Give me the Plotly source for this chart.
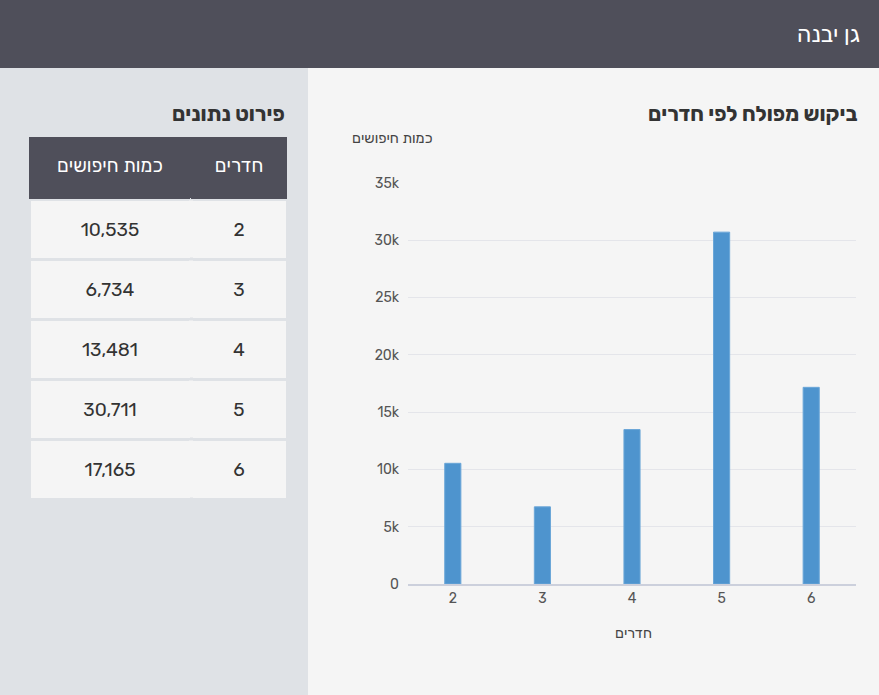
import plotly.graph_objects as go

# data
rooms = ["2", "3", "4", "5", "6"]
searches = [10535, 6734, 13481, 30711, 17165]

page_title = "גן יבנה"
chart_title = "ביקוש מפולח לפי חדרים"
table_title = "פירוט נתונים"
col_rooms = "חדרים"
col_searches = "כמות חיפושים"

W, H = 879, 695
FONT = "Rubik, Open Sans, DejaVu Sans, sans-serif"

TABLE_TOP, HEAD_H, ROW_H = 137, 62, 60
DIVIDER_X = 29 + 162


def py(px_from_top):
    # pixel from top -> paper y
    return 1 - px_from_top / H


def px(px_from_left):
    return px_from_left / W


def cell(text):
    # tables draw text near the top of a cell; a small blank first line
    # (base font) pushes the real 19px text down to the middle
    return '\u00a0<br><span style="font-size:19px">' + text + "</span>"


fig = go.Figure()

fig.add_trace(go.Bar(
    x=rooms,
    y=searches,
    marker=dict(color="#4e94ce", line=dict(color="#6aa6d8", width=1)),
    hoverinfo="x+y",
))

fig.add_trace(go.Table(
    domain=dict(x=[px(29), px(287)], y=[0, py(TABLE_TOP)]),
    columnwidth=[162, 96],
    header=dict(
        values=[cell(col_searches), cell(col_rooms)],
        fill_color="#4f4f5a",
        line=dict(color="#4f4f5a", width=0),
        font=dict(family=FONT, size=12, color="white"),
        align="center",
        height=HEAD_H,
    ),
    cells=dict(
        values=[[cell(f"{v:,}") for v in searches], [cell(r) for r in rooms]],
        fill_color="#f5f5f5",
        line=dict(color="#dfe2e6", width=3),
        font=dict(family=FONT, size=13, color="#333333"),
        align="center",
        height=ROW_H,
    ),
))

shapes = [
    # header bar
    dict(type="rect", xref="paper", yref="paper", x0=0, x1=1, y0=py(68), y1=1,
         fillcolor="#4f4f5a", line=dict(width=0), layer="below"),
    # left panel
    dict(type="rect", xref="paper", yref="paper", x0=0, x1=px(308), y0=0, y1=py(68),
         fillcolor="#dfe2e6", line=dict(width=0), layer="below"),
]
# hide the column divider inside each body row (reference has none)
for i in range(len(rooms)):
    top = TABLE_TOP + HEAD_H + i * ROW_H
    shapes.append(dict(type="rect", xref="paper", yref="paper",
                       x0=px(DIVIDER_X - 2), x1=px(DIVIDER_X + 2),
                       y0=py(top + ROW_H - 1.5), y1=py(top + 1.5),
                       fillcolor="#f5f5f5", line=dict(width=0), layer="above"))

annotations = [
    dict(text=page_title, xref="paper", yref="paper", x=px(862), y=py(34),
         xanchor="right", yanchor="middle", showarrow=False,
         font=dict(family=FONT, size=23, color="white")),
    dict(text="<b>" + chart_title + "</b>", xref="paper", yref="paper", x=px(860), y=py(113),
         xanchor="right", yanchor="middle", showarrow=False,
         font=dict(family=FONT, size=21, color="#333333")),
    dict(text="<b>" + table_title + "</b>", xref="paper", yref="paper", x=px(287), y=py(113),
         xanchor="right", yanchor="middle", showarrow=False,
         font=dict(family=FONT, size=21, color="#333333")),
    dict(text=col_searches, xref="paper", yref="paper", x=px(435), y=py(138),
         xanchor="right", yanchor="middle", showarrow=False,
         font=dict(family=FONT, size=14.5, color="#444444")),
    dict(text=col_rooms, xref="paper", yref="paper", x=px(633), y=py(633),
         xanchor="center", yanchor="middle", showarrow=False,
         font=dict(family=FONT, size=14.5, color="#444444")),
]

fig.update_layout(
    width=W, height=H,
    margin=dict(l=0, r=0, t=0, b=0, autoexpand=False),
    paper_bgcolor="#f5f5f5",
    plot_bgcolor="#f5f5f5",
    showlegend=False,
    bargap=0.82,
    shapes=shapes,
    annotations=annotations,
    font=dict(family=FONT, color="#555555"),
    xaxis=dict(
        domain=[px(408), px(856)],
        type="category",
        showgrid=False,
        showline=True, linecolor="#ccd0dc", linewidth=1.5,
        ticks="", tickfont=dict(size=14, color="#555555"),
        fixedrange=True,
    ),
    yaxis=dict(
        domain=[py(584), py(183)],
        range=[0, 35000],
        dtick=5000,
        tickformat="~s",
        showgrid=True, gridcolor="#e4e5ea", gridwidth=1,
        zeroline=False,
        ticks="", ticklabelstandoff=8,
        tickfont=dict(size=14, color="#555555"),
        fixedrange=True,
    ),
)

# drop the default 8px body margin so the figure fills the window exactly
fix_page = (
    "document.body.style.margin='0';document.body.style.overflow='hidden';"
    "Plotly.relayout(document.getElementById('{plot_id}'), {});"
)

fig.write_html("out.html", config={"displayModeBar": False}, post_script=fix_page)
